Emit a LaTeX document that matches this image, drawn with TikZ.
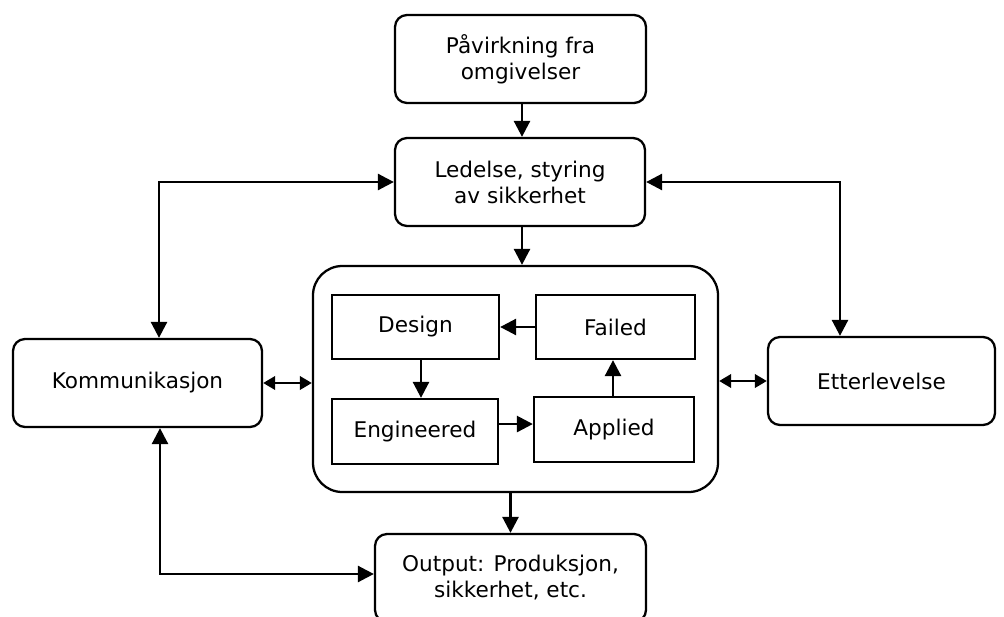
\documentclass[tikz,border=0pt]{standalone}
\usepackage{fontspec}
\setmainfont{DejaVu Sans}
\usetikzlibrary{arrows.meta,calc}
\begin{document}
\begin{tikzpicture}[x=0.75pt,y=-0.75pt,
  font=\fontsize{16.2pt}{19.5pt}\selectfont,
  rbox/.style={draw,line width=1.7pt,rounded corners=9pt,align=center,inner sep=0pt},
  sbox/.style={draw,line width=1.7pt,align=center,inner sep=0pt},
  arr/.style={line width=2pt,-{Triangle[length=12pt,width=12pt]}},
  dbl/.style={line width=2pt,{Triangle[length=9pt,width=10pt]}-{Triangle[length=9pt,width=10pt]}},
  lbl/.style={line width=2pt,{Triangle[length=12pt,width=12pt]}-{Triangle[length=12pt,width=12pt]}}]
\useasboundingbox (0,0) rectangle (1004,617);

% outer boxes
\node[rbox,minimum width=188.25pt,minimum height=66pt] (top) at (520.5,59) {Påvirkning fra\\omgivelser};
\node[rbox,minimum width=187.5pt,minimum height=66pt] (led) at (520,182) {Ledelse, styring\\av sikkerhet};
\node[rbox,rounded corners=22pt,minimum width=303.75pt,minimum height=169.5pt] (big) at (515.5,379) {};
\node[rbox,minimum width=186.75pt,minimum height=66pt] (kom) at (137.5,383) {Kommunikasjon};
\node[rbox,minimum width=170.25pt,minimum height=66pt] (ett) at (881.5,381) {Etterlevelse};
\node[rbox,minimum width=203.25pt,minimum height=66pt] (out) at (510.5,578) {Output: Produksjon,\\sikkerhet, etc.};

% inner cycle
\node[sbox,minimum width=125.25pt,minimum height=48pt] (des) at (415.5,327) {Design};
\node[sbox,minimum width=119.25pt,minimum height=48pt] (fail) at (615.5,327) {Failed};
\node[sbox,minimum width=124.5pt,minimum height=48.75pt] (eng) at (415,431.5) {Engineered};
\node[sbox,minimum width=120pt,minimum height=48.75pt] (app) at (614,429.5) {Applied};

% routing corners
\coordinate (lc) at (159,182);
\coordinate (rc) at (840,182);
\coordinate (bc) at (160,574);

% vertical flow
\draw[arr] (top.south -| 522,0) -- (led.north -| 522,0);
\draw[arr] (led.south -| 522,0) -- (big.north -| 522,0);
\draw[arr] (big.south -| out) -- (out.north);

% inner arrows
\draw[arr] (fail.west) -- (des.east);
\draw[arr] (des.south -| 421,0) -- (eng.north -| 421,0);
\draw[arr] ([yshift=5.6pt]eng.east) -- ([yshift=5.6pt]eng.east -| app.west);
\draw[arr] (app.north -| 613,0) -- (fail.south -| 613,0);

% side links
\draw[dbl] (kom.east) -- (kom.east -| big.west);
\draw[dbl] (ett.west -| big.east) -- (ett.west);
\draw[lbl] (led.west) -- (lc) -- (lc |- kom.north);
\draw[lbl] (led.east) -- (rc) -- (rc |- ett.north);
\draw[lbl] (bc |- kom.south) -- (bc) -- (bc -| out.west);
\end{tikzpicture}
\end{document}
